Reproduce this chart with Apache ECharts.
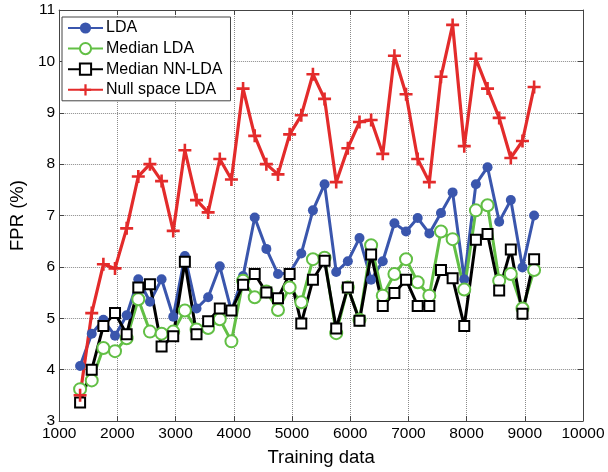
<!DOCTYPE html>
<html>
<head>
<meta charset="utf-8">
<script src="https://cdn.jsdelivr.net/npm/echarts@6/dist/echarts.min.js"></script>
<style>html,body{margin:0;padding:0;background:#fff}#c{width:608px;height:472px}</style>
</head>
<body>
<div id="c"></div>
<script>
var trainingData = [1360,1560,1760,1960,2160,2360,2560,2760,2960,3160,3360,3560,3760,3960,4160,4360,4560,4760,4960,5160,5360,5560,5760,5960,6160,6360,6560,6760,6960,7160,7360,7560,7760,7960,8160,8360,8560,8760,8960,9160];
var lda = [4.07,4.70,4.97,4.66,5.06,5.76,5.32,5.76,5.03,6.21,5.19,5.41,6.01,5.14,5.82,6.96,6.35,5.86,5.88,6.26,7.10,7.61,5.90,6.11,6.56,5.75,6.11,6.85,6.69,6.95,6.65,7.05,7.45,5.76,7.61,7.94,6.88,7.30,5.99,7.00];
var medianLda = [3.62,3.79,4.42,4.36,4.61,5.37,4.74,4.70,4.74,5.15,4.78,4.81,4.98,4.55,5.73,5.41,5.52,5.16,5.60,5.31,6.15,6.18,4.71,5.60,4.97,6.42,5.44,5.86,6.15,5.70,5.44,6.69,6.54,5.56,7.10,7.20,5.73,5.86,5.19,5.94];
var medianNnLda = [3.36,4.00,4.85,5.10,4.69,5.60,5.66,4.45,4.65,6.10,4.69,4.94,5.19,5.15,5.65,5.86,5.50,5.39,5.86,4.90,5.75,6.12,4.80,5.60,4.95,6.24,5.24,5.49,5.75,5.24,5.24,5.94,5.78,4.85,6.53,6.64,5.54,6.34,5.09,6.15];
var nullSpaceLda = [3.50,5.10,6.05,5.97,6.75,7.76,8.00,7.67,6.70,8.27,7.30,7.06,8.10,7.70,9.47,8.55,8.00,7.80,8.58,8.95,9.75,9.27,7.65,8.31,8.82,8.86,8.20,10.11,9.36,8.10,7.65,9.70,10.71,8.35,10.05,9.47,8.90,8.12,8.45,9.50];
var seriesNames = ['LDA','Median LDA','Median NN-LDA','Null space LDA'];

function pairs(ys){ return ys.map(function(v,i){ return [trainingData[i], v]; }); }

var FONT = 'Liberation Sans, Arial, Helvetica, sans-serif';
var PLUS = 'path://M4,0h2v4h4v2h-4v4h-2v-4h-4v-2h4z';
var gridLine = {show:true, lineStyle:{type:'dotted', color:'#8a8a8a', width:1}};
var axLine = {show:true, lineStyle:{color:'#444', width:1}};
var plain = function(v){ return String(v); };

var chart = echarts.init(document.getElementById('c'), null, {renderer:'canvas'});
chart.setOption({
  animation:false,
  backgroundColor:'#fff',
  grid:{left:55, right:25, top:10, bottom:45, containLabel:false},
  legend:{
    orient:'vertical', left:62, top:17,
    data:seriesNames,
    itemWidth:35, itemHeight:14, itemGap:4.6,
    padding:[3,8,3,5],
    backgroundColor:'#fff', borderColor:'#444', borderWidth:1,
    textStyle:{fontFamily:FONT, fontSize:16, color:'#000', padding:[0,0,0,-2]}
  },
  xAxis:[{
    type:'value', min:1000, max:10000, interval:1000,
    name:'Training data', nameLocation:'middle', nameGap:27,
    nameTextStyle:{fontFamily:FONT, fontSize:18.5, color:'#000'},
    axisLine:axLine, axisTick:{show:true, inside:true, length:5, lineStyle:{color:'#444'}},
    axisLabel:{fontFamily:FONT, fontSize:15.5, color:'#000', margin:5, formatter:plain},
    splitLine:gridLine
  },{
    type:'value', position:'top', min:1000, max:10000, interval:1000,
    axisLine:axLine, axisTick:{show:true, inside:true, length:5, lineStyle:{color:'#444'}},
    axisLabel:{show:false}, splitLine:{show:false}
  }],
  yAxis:[{
    type:'value', min:3, max:11, interval:1,
    name:'FPR (%)', nameLocation:'middle', nameGap:28,
    nameTextStyle:{fontFamily:FONT, fontSize:18.5, color:'#000'},
    axisLine:axLine, axisTick:{show:true, inside:true, length:5, lineStyle:{color:'#444'}},
    axisLabel:{fontFamily:FONT, fontSize:15.5, color:'#000', margin:4, formatter:plain},
    splitLine:gridLine
  },{
    type:'value', position:'right', min:3, max:11, interval:1,
    axisLine:axLine, axisTick:{show:true, inside:true, length:5, lineStyle:{color:'#444'}},
    axisLabel:{show:false}, splitLine:{show:false}
  }],
  series:[
    {name:seriesNames[0], type:'line', data:pairs(lda), symbol:'circle', symbolSize:10,
     lineStyle:{color:'#3a56ad', width:3}, itemStyle:{color:'#3a56ad'}},
    {name:seriesNames[1], type:'line', data:pairs(medianLda), symbol:'emptyCircle', symbolSize:12,
     lineStyle:{color:'#62bf45', width:3}, itemStyle:{color:'#62bf45', borderWidth:2.5}},
    {name:seriesNames[2], type:'line', data:pairs(medianNnLda), symbol:'emptyRect', symbolSize:10,
     lineStyle:{color:'#000', width:3}, itemStyle:{color:'#000', borderWidth:2.5}},
    {name:seriesNames[3], type:'line', data:pairs(nullSpaceLda), symbol:PLUS, symbolSize:13,
     lineStyle:{color:'#e32b2b', width:3.2}, itemStyle:{color:'#e32b2b'}}
  ]
});
</script>
</body>
</html>
